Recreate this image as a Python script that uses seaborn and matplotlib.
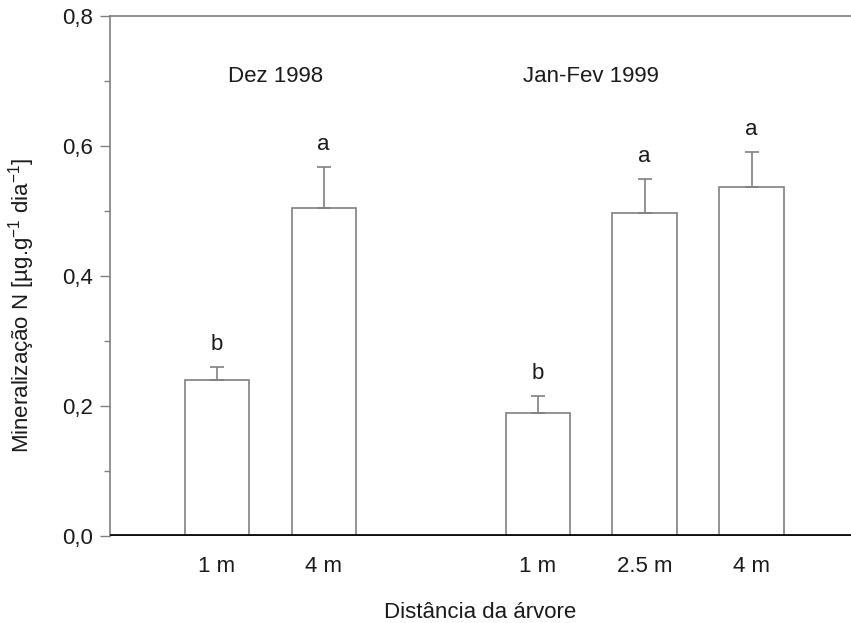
import numpy as np
import pandas as pd
import matplotlib
matplotlib.use('Agg')
import matplotlib.pyplot as plt
import seaborn as sns

#Data
positions = [0, 1, 3, 4, 5]
tick_labels = ['1 m', '4 m', '1 m', '2.5 m', '4 m']
values = [0.240, 0.505, 0.190, 0.497, 0.537]
errors = [0.020, 0.063, 0.026, 0.052, 0.054]
letters = ['b', 'a', 'b', 'a', 'a']
groups = ['Dez 1998', 'Jan-Fev 1999']
group_pos = [0.55, 3.5]

df = pd.DataFrame({'pos': positions, 'value': values})

sns.set_style('white')
plt.rcParams['font.family'] = ['Liberation Sans', 'DejaVu Sans']
plt.rcParams['mathtext.fontset'] = 'custom'
plt.rcParams['mathtext.rm'] = 'Liberation Sans'
plt.rcParams['mathtext.default'] = 'rm'

txt = '#1a1a1a'

fig = plt.figure(figsize=(8.51, 6.23), dpi=100)
ax = fig.add_axes([0.129, 0.139, 0.871, 0.836])

sns.barplot(data=df, x='pos', y='value', native_scale=True, width=0.6,
            color='white', edgecolor='#808080', linewidth=1.2, errorbar=None, ax=ax)

#upper error bars only
ax.errorbar(positions, values, yerr=[np.zeros(len(errors)), errors], fmt='none',
            ecolor='#808080', elinewidth=1.2, capsize=5, capthick=1.2)

for p, v, e, l in zip(positions, values, errors, letters):
    ax.text(p, v + e + 0.018, l, ha='center', va='bottom', fontsize=16, color=txt)

for g, gp in zip(groups, group_pos):
    ax.text(gp, 0.707, g, ha='center', va='center', fontsize=16, color=txt)

ax.axhline(0, color='#111111', linewidth=3.5, zorder=5)

ax.set_xlim(-1, 5.93)
ax.set_ylim(0, 0.8)
ax.set_yticks([0, 0.2, 0.4, 0.6, 0.8])
ax.set_yticklabels(['0,0', '0,2', '0,4', '0,6', '0,8'], fontsize=16, color=txt)
ax.set_yticks([0.1, 0.3, 0.5, 0.7], minor=True)
ax.tick_params(axis='y', which='major', direction='out', length=7, width=1, color='#808080', left=True, pad=5)
ax.tick_params(axis='y', which='minor', direction='out', length=4, width=1, color='#808080', left=True)
ax.set_xticks(positions)
ax.set_xticklabels(tick_labels, fontsize=16, color=txt)
ax.tick_params(axis='x', length=0, pad=14)

for s in ['left', 'top']:
    ax.spines[s].set_color('#808080')
    ax.spines[s].set_linewidth(1.2)
ax.spines['right'].set_visible(False)
ax.spines['bottom'].set_visible(False)

ax.set_xlabel('Distância da árvore', fontsize=16, color=txt, labelpad=18)
ax.set_ylabel('Mineralização N [µg.g$^{-1}$ dia$^{-1}$]', fontsize=16, color=txt)
ax.yaxis.set_label_coords(-0.098, 0.443)

fig.savefig('out.png', dpi=100)
